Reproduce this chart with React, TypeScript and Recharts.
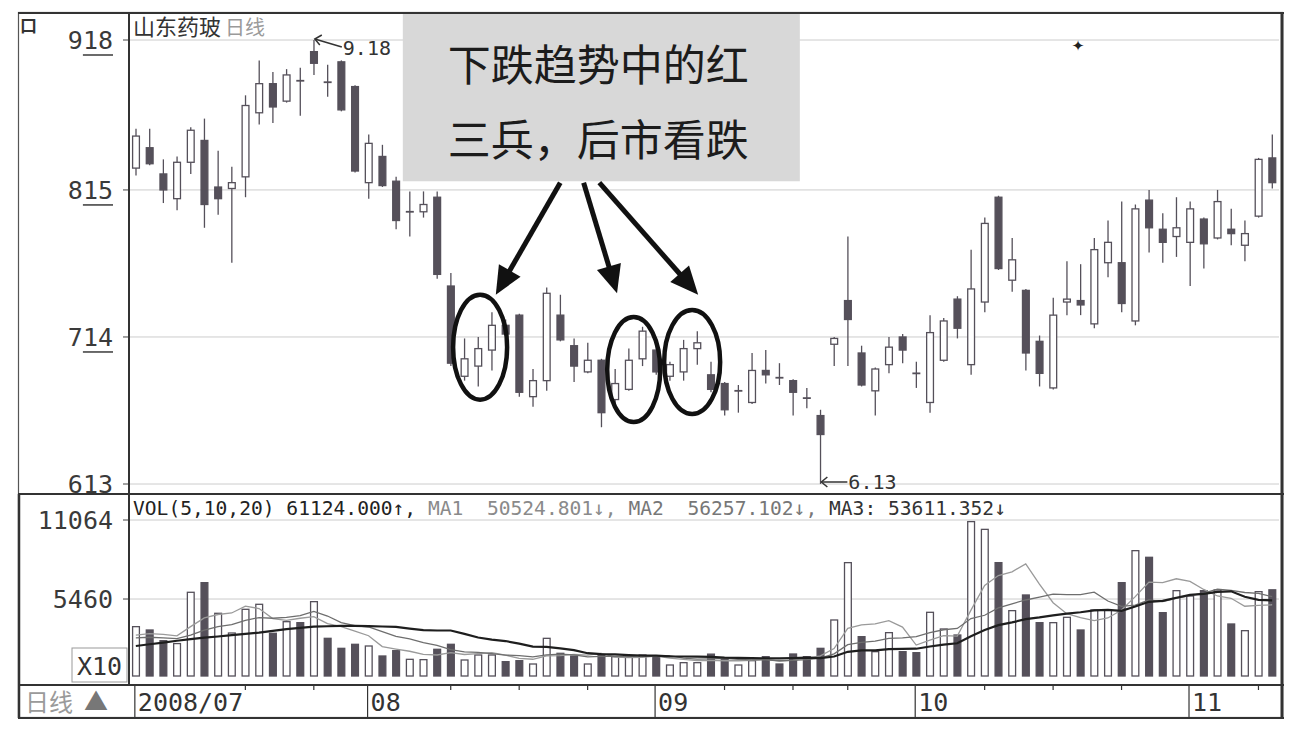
import React from 'react';
import {
  ComposedChart, Bar, Line, XAxis, YAxis, CartesianGrid,
  ReferenceArea, ReferenceDot, ReferenceLine,
} from 'recharts';

// trading days shown for each month of 2008
const julDays = [9, 10, 11, 14, 15, 16, 17, 18, 21, 22, 23, 24, 25, 28, 29, 30, 31];
const augDays = [1, 4, 5, 6, 7, 8, 11, 12, 13, 14, 15, 18, 19, 20, 21, 22, 25, 26, 27, 28, 29];
const sepDays = [1, 2, 3, 4, 5, 8, 9, 10, 11, 12, 16, 17, 18, 19, 22, 23, 24, 25, 26];
const octDays = [6, 7, 8, 9, 10, 13, 14, 15, 16, 17, 20, 21, 22, 23, 24, 27, 28, 29, 30, 31];
const novDays = [3, 4, 5, 6, 7, 10, 11];
const monthLabels = ['2008/07', '08', '09', '10', '11'];

const priceTicks = [613, 714, 815, 918];
const volTicks = [5460, 11064];

// prices x100
const opens = [830, 844, 826, 809, 834, 849, 817, 816, 824, 868,
  888, 876, 890, 910, 889, 903, 886, 820, 838, 821,
  799, 800, 810, 749, 687, 694, 705, 722, 729, 673,
  684, 729, 708, 690, 698, 671, 678, 699, 705, 687,
  690, 706, 688, 682, 676, 669, 691, 686, 684, 672,
  660, 709, 739, 703, 677, 695, 714, 689, 669, 698,
  740, 695, 738, 810, 753, 746, 711, 679, 738, 739,
  723, 765, 765, 725, 808, 788, 783, 779, 795, 782,
  788, 777, 797, 837];
const highs = [857, 857, 836, 838, 858, 864, 842, 831, 880, 904,
  896, 898, 899, 918, 901, 904, 887, 853, 846, 824,
  814, 814, 814, 758, 713, 714, 731, 726, 730, 692,
  748, 743, 713, 710, 699, 692, 706, 721, 708, 697,
  712, 718, 697, 683, 681, 703, 705, 696, 685, 679,
  664, 714, 783, 708, 693, 714, 716, 697, 729, 727,
  742, 774, 796, 811, 782, 747, 715, 741, 766, 764,
  782, 794, 807, 805, 815, 799, 810, 807, 796, 815,
  802, 794, 837, 853];
const lows = [825, 832, 806, 801, 826, 789, 798, 765, 810, 860,
  861, 875, 866, 894, 879, 869, 827, 809, 817, 788,
  783, 796, 754, 694, 684, 680, 691, 708, 673, 666,
  677, 711, 683, 689, 652, 664, 677, 694, 688, 684,
  684, 695, 676, 660, 662, 668, 682, 681, 660, 665,
  613, 694, 694, 680, 660, 689, 696, 679, 662, 697,
  713, 688, 731, 760, 745, 691, 680, 678, 729, 729,
  720, 755, 731, 722, 772, 765, 769, 749, 761, 781,
  777, 766, 796, 816];
const closes = [852, 833, 815, 834, 856, 805, 809, 820, 873, 888,
  872, 894, 889, 902, 888, 870, 828, 847, 818, 794,
  800, 805, 757, 696, 699, 706, 722, 716, 676, 684,
  744, 712, 694, 698, 662, 682, 698, 718, 690, 695,
  706, 710, 678, 664, 677, 691, 688, 685, 676, 671,
  647, 713, 726, 681, 692, 707, 705, 688, 717, 725,
  720, 747, 792, 761, 767, 703, 689, 729, 740, 736,
  774, 779, 737, 802, 789, 779, 789, 802, 778, 807,
  785, 785, 836, 820];

// volume (x10), U = hollow bar, D = filled bar
const volumes = [3500, 3263, 2506, 2300, 5937, 6620, 4447, 3050, 4730, 5085,
  3030, 3853, 3783, 5273, 2672, 1962, 2247, 2128, 1419, 1797,
  1183, 1160, 1894, 2248, 1135, 1490, 1490, 1017, 1088, 851,
  2672, 1609, 1419, 851, 1490, 1372, 1372, 1490, 1324, 780,
  946, 946, 1550, 1183, 780, 1088, 1372, 851, 1560, 1372,
  1962, 3973, 8040, 2790, 1726, 3075, 1726, 1655, 4517, 3334,
  2908, 10950, 10400, 8040, 4635, 5746, 3783, 3783, 4163, 3263,
  4682, 4682, 6620, 8890, 8418, 4493, 6053, 5675, 6053, 6101,
  3689, 3215, 5982, 6112];
const volDir = 'UDDUUDUUUU' + 'DUDUDDDUDD' + 'UUDDUUUDDU' + 'UDDUDUUUDU' + 'UUDDUUDDDD'
  + 'DUUDUUDDUU' + 'DUUDUDDUUD' + 'UUDUDDUUDU' + 'DUUD';

const ma5 = [2900, 3000, 2950, 2850, 3500, 4125, 4362, 4471, 4957, 4786,
  4068, 3950, 4096, 4205, 3722, 3509, 3187, 2856, 2086, 1911,
  1755, 1537, 1491, 1656, 1524, 1585, 1651, 1476, 1244, 1187,
  1424, 1447, 1528, 1480, 1608, 1348, 1301, 1315, 1410, 1268,
  1182, 1097, 1109, 1081, 1081, 1109, 1195, 1055, 1130, 1249,
  1423, 1944, 3381, 3627, 3698, 3921, 3471, 2194, 2540, 2861,
  2828, 4673, 6422, 7126, 7387, 7954, 6521, 5197, 4422, 4148,
  3935, 4115, 4682, 5627, 6658, 6621, 6895, 6706, 6138, 5675,
  5514, 4947, 5008, 5052];
const ma10 = [2700, 2750, 2700, 2650, 2900, 3250, 3500, 3650, 3950, 4144,
  4097, 4156, 4284, 4581, 4254, 3789, 3569, 3476, 3145, 2816,
  2632, 2362, 2174, 1871, 1717, 1670, 1594, 1483, 1450, 1356,
  1505, 1549, 1502, 1362, 1398, 1386, 1374, 1421, 1445, 1438,
  1265, 1199, 1212, 1245, 1174, 1146, 1146, 1082, 1106, 1165,
  1266, 1569, 2218, 2379, 2473, 2672, 2708, 2788, 3084, 3280,
  3374, 4072, 4308, 4833, 5124, 5391, 5597, 5810, 5774, 5767,
  5945, 5318, 4940, 5025, 5403, 5278, 5505, 5694, 5883, 6167,
  6067, 5921, 5857, 5626];
const ma20 = [2130, 2250, 2370, 2500, 2620, 2720, 2800, 2900, 2990, 3080,
  3200, 3330, 3420, 3500, 3530, 3550, 3550, 3540, 3510, 3480,
  3364, 3259, 3229, 3226, 2986, 2729, 2581, 2480, 2298, 2086,
  2068, 1956, 1838, 1617, 1558, 1528, 1484, 1452, 1448, 1397,
  1385, 1374, 1357, 1304, 1286, 1266, 1260, 1252, 1275, 1301,
  1266, 1384, 1715, 1812, 1824, 1909, 1927, 1935, 2095, 2222,
  2320, 2821, 3263, 3606, 3799, 4032, 4152, 4299, 4429, 4523,
  4659, 4695, 4624, 4929, 5264, 5334, 5551, 5752, 5829, 5967,
  6006, 5619, 5398, 5361];

const months = [julDays, augDays, sepDays, octDays, novDays];
const dates: string[] = [];
const monthStart: Record<string, string> = {};
months.forEach((days, m) => days.forEach((d, j) => {
  const key = `2008-${String(m + 7).padStart(2, '0')}-${String(d).padStart(2, '0')}`;
  if (j === 0) monthStart[key] = monthLabels[m];
  dates.push(key);
}));

const dow = (s: string) => new Date(s + 'T00:00:00Z').getUTCDay();
const weekTick = new Set<string>();
let lastStart = 0;
let lastLabel = '';
dates.forEach((s, i) => {
  if (monthStart[s]) { lastStart = i; lastLabel = monthStart[s]; return; }
  if (i > 0 && dow(s) <= dow(dates[i - 1]) && (i - lastStart) * 13.7 > lastLabel.length * 15 + 4) {
    weekTick.add(s);
  }
});

const rows = dates.map((date, i) => ({
  date, open: opens[i], high: highs[i], low: lows[i], close: closes[i],
  vol: volumes[i], volUp: volDir[i] === 'U', ma5: ma5[i], ma10: ma10[i], ma20: ma20[i],
}));

const INK = '#55505a';
const MONO = "'DejaVu Sans Mono', monospace";
const CJK = "'Noto Sans CJK SC', sans-serif";
const NB = '\u00a0';

const Candle = (p: any) => {
  const { x, y, width, height, payload } = p;
  if (x == null || y == null || !payload) return null;
  const top = Math.min(y, y + height);
  const h = Math.abs(height);
  const k = h / (payload.high - payload.low);
  const yo = top + (payload.high - payload.open) * k;
  const yc = top + (payload.high - payload.close) * k;
  const cx = x + width / 2;
  const up = payload.close >= payload.open;
  const bTop = Math.min(yo, yc);
  const bH = Math.abs(yo - yc);
  return (
    <g>
      <line x1={cx} x2={cx} y1={top} y2={top + h} stroke={INK} strokeWidth={1.3} />
      {bH < 2.5 ? (
        <line x1={x} x2={x + width} y1={bTop} y2={bTop} stroke={INK} strokeWidth={1.8} />
      ) : (
        <rect x={x + 0.6} y={bTop} width={width - 1.2} height={bH}
          fill={up ? '#fff' : INK} stroke={INK} strokeWidth={1.3} />
      )}
    </g>
  );
};

const VolBar = (p: any) => {
  const { x, y, width, height, payload } = p;
  if (x == null || y == null || !payload) return null;
  const top = Math.min(y, y + height);
  return (
    <rect x={x + 0.6} y={top} width={width - 1.2} height={Math.abs(height)}
      fill={payload.volUp ? '#fff' : INK} stroke={INK} strokeWidth={1.3} />
  );
};

const PriceTick = (p: any) => {
  const cw = 25 * 0.602;
  const v = p.payload.value;
  return (
    <g>
      <text x={p.x} y={p.y} dy={9} textAnchor="end" fontFamily={MONO} fontSize={25} fill="#3a3a3a">
        {v}
      </text>
      {v !== 613 && (
        <line x1={p.x - cw * 2} x2={p.x} y1={p.y + 15} y2={p.y + 15} stroke="#3a3a3a" strokeWidth={1.5} />
      )}
    </g>
  );
};

const VolTick = (p: any) => (
  <text x={p.x} y={p.y} dy={9} textAnchor="end" fontFamily={MONO} fontSize={25} fill="#3a3a3a">
    {p.payload.value}
  </text>
);

const DateTick = (p: any) => {
  const { x, y, payload } = p;
  const label = monthStart[payload.value];
  if (label) {
    return (
      <g>
        <line x1={x - 1} x2={x - 1} y1={y} y2={y + 33} stroke="#333" strokeWidth={1.2} />
        <text x={x + 2} y={y + 26} fontFamily={MONO} fontSize={25} fill="#333">{label}</text>
      </g>
    );
  }
  if (weekTick.has(payload.value)) {
    return <line x1={x} x2={x} y1={y} y2={y + 5} stroke="#333" strokeWidth={1.2} />;
  }
  return <g />;
};

// annotation: arrows from the caption box to the three circled groups
const arrows = [
  { from: 31, to: 26, fromPrice: 820, toPrice: 743, dx1: 0, dx2: 4 },
  { from: 33, to: 35, fromPrice: 820, toPrice: 744, dx1: -4, dx2: 2 },
  { from: 34, to: 41, fromPrice: 820, toPrice: 743, dx1: -2, dx2: 1 },
];
const rings = [
  { at: 25, price: 707, dx: 2, rx: 27, ry: 52.5 },
  { at: 36, price: 691.6, dx: 5, rx: 26.5, ry: 52.5 },
  { at: 41, price: 696.8, dx: -5, rx: 28, ry: 52 },
];

const arrowShape = (dx1: number, dx2: number) => (p: any) => {
  const x1 = p.x1 + dx1;
  const y1 = p.y1;
  const x2 = p.x2 + dx2;
  const y2 = p.y2;
  const len = Math.hypot(x2 - x1, y2 - y1) || 1;
  const ux = (x2 - x1) / len;
  const uy = (y2 - y1) / len;
  const L = 28;
  const W = 12.5;
  const bx = x2 - ux * L;
  const by = y2 - uy * L;
  return (
    <g>
      <line x1={x1} y1={y1} x2={bx + ux * 2} y2={by + uy * 2} stroke="#111" strokeWidth={5} />
      <polygon points={`${x2},${y2} ${bx - uy * W},${by + ux * W} ${bx + uy * W},${by - ux * W}`} fill="#111" />
    </g>
  );
};

const volHeader = [
  { t: `VOL(5,10,20)${NB}61124.000↑,`, c: '#222' },
  { t: `${NB}MA1${NB}${NB}50524.801↓,`, c: '#8a8a8a' },
  { t: `${NB}MA2${NB}${NB}56257.102↓,`, c: '#777' },
  { t: `${NB}MA3:${NB}53611.352↓`, c: '#333' },
];

const Frame = () => (
  <svg width={1296} height={734} style={{ position: 'absolute', left: 0, top: 0, pointerEvents: 'none' }}>
    <rect x={18.5} y={12.5} width={1264} height={705} fill="none" stroke="#555" strokeWidth={1.2} />
    <line x1={18} x2={1284} y1={13} y2={13} stroke="#333" strokeWidth={2} />
    <line x1={1282} x2={1282} y1={12} y2={719} stroke="#333" strokeWidth={3} />
    <line x1={129} x2={129} y1={13} y2={685} stroke="#333" strokeWidth={2} />
    <line x1={18} x2={1284} y1={494} y2={494} stroke="#333" strokeWidth={2} />
    <line x1={19} x2={19} y1={494} y2={718} stroke="#333" strokeWidth={2.5} />
    <line x1={18} x2={1284} y1={685} y2={685} stroke="#333" strokeWidth={2} />
    <line x1={18} x2={1284} y1={718} y2={718} stroke="#333" strokeWidth={2} />
    <text x={20} y={32} fontFamily={CJK} fontSize={17} fontWeight={700} fill="#333">口</text>
    <text x={133} y={35} fontFamily={CJK} fontSize={22} fill="#333">山东药玻
      <tspan fontSize={20} fill="#9a9a9a" dx={4}>日线</tspan>
    </text>
    <text x={133} y={515} fontFamily={MONO} fontSize={19.6}>
      {volHeader.map((h, i) => <tspan key={i} fill={h.c}>{h.t}</tspan>)}
    </text>
    <rect x={72} y={648} width={55} height={34} fill="#fff" stroke="#999" strokeWidth={1} />
    <text x={99.5} y={675} textAnchor="middle" fontFamily={MONO} fontSize={25} fill="#333">X10</text>
    <text x={25} y={711} fontFamily={CJK} fontSize={24} fill="#9a9a9a">日线</text>
    <text x={84} y={710} fontFamily={CJK} fontSize={24} fill="#777">▲</text>
    <text x={1078} y={51} textAnchor="middle" fontFamily="'DejaVu Sans', sans-serif" fontSize={15} fill="#222">✦</text>
  </svg>
);

const App: React.FC = () => (
  <div style={{ position: 'absolute', left: 0, top: 0, width: 1296, height: 734, background: '#fff', overflow: 'hidden' }}>
    <div style={{ position: 'absolute', left: 0, top: 0 }}>
      <ComposedChart width={1296} height={505} data={rows} margin={{ top: 40, right: 17, bottom: 21, left: 0 }}>
        <CartesianGrid vertical={false} stroke="#cccccc" />
        <XAxis dataKey="date" hide />
        <YAxis
          domain={[613, 918]}
          ticks={priceTicks}
          interval={0}
          allowDataOverflow
          width={129}
          axisLine={false}
          tickSize={6}
          tickMargin={10}
          tickLine={{ stroke: '#444' }}
          tick={(p: any) => <PriceTick {...p} />}
        />
        <Bar dataKey={(d: any) => [d.low, d.high]} shape={Candle} barSize={8} isAnimationActive={false} />
        <ReferenceArea
          x1={dates[20]} x2={dates[48]} y1={821} y2={936.5}
          ifOverflow="visible" fill="#d8d8d8" fillOpacity={1} stroke="none"
        />
        <ReferenceDot
          x={dates[34]} y={936.5} r={1} ifOverflow="visible"
          shape={(p: any) => (
            <g fontFamily={CJK} fontSize={43} fill="#1c1c1c" textAnchor="middle">
              <text x={p.cx - 3} y={p.cy + 68}>下跌趋势中的红</text>
              <text x={p.cx - 3} y={p.cy + 143}>三兵，后市看跌</text>
            </g>
          )}
        />
        {arrows.map((a, i) => (
          <ReferenceLine
            key={'a' + i}
            ifOverflow="visible"
            segment={[{ x: dates[a.from], y: a.fromPrice }, { x: dates[a.to], y: a.toPrice }]}
            shape={arrowShape(a.dx1, a.dx2)}
          />
        ))}
        {rings.map((r, i) => (
          <ReferenceDot
            key={'r' + i}
            x={dates[r.at]} y={r.price} r={1} ifOverflow="visible"
            shape={(p: any) => (
              <ellipse cx={p.cx + r.dx} cy={p.cy} rx={r.rx} ry={r.ry} fill="none" stroke="#111" strokeWidth={4.5} />
            )}
          />
        ))}
        <ReferenceDot
          x={dates[13]} y={918} r={1} ifOverflow="visible"
          shape={(p: any) => (
            <g>
              <line x1={p.cx + 1} y1={p.cy - 1} x2={p.cx + 28} y2={p.cy + 7} stroke="#333" strokeWidth={1.5} />
              <polyline points={`${p.cx + 8},${p.cy - 5} ${p.cx + 1},${p.cy - 1} ${p.cx + 6},${p.cy + 5}`} fill="none" stroke="#333" strokeWidth={1.5} />
              <text x={p.cx + 29} y={p.cy + 15} fontFamily={MONO} fontSize={20} fill="#333">9.18</text>
            </g>
          )}
        />
        <ReferenceDot
          x={dates[50]} y={613} r={1} ifOverflow="visible"
          shape={(p: any) => (
            <g>
              <line x1={p.cx + 1} y1={p.cy - 2} x2={p.cx + 27} y2={p.cy - 2} stroke="#333" strokeWidth={1.5} />
              <polyline points={`${p.cx + 7},${p.cy - 7} ${p.cx + 1},${p.cy - 2} ${p.cx + 7},${p.cy + 3}`} fill="none" stroke="#333" strokeWidth={1.5} />
              <text x={p.cx + 28} y={p.cy + 5} fontFamily={MONO} fontSize={20} fill="#333">6.13</text>
            </g>
          )}
        />
      </ComposedChart>
    </div>
    <div style={{ position: 'absolute', left: 0, top: 495, width: 1296, height: 223, background: 'transparent' }}>
      <ComposedChart width={1296} height={223} data={rows} margin={{ top: 25, right: 17, bottom: 0, left: 0 }}>
        <CartesianGrid vertical={false} stroke="#cccccc" />
        <XAxis
          dataKey="date"
          ticks={dates}
          interval={0}
          height={33}
          tickSize={0}
          tickMargin={0}
          tickLine={false}
          axisLine={{ stroke: '#333', strokeWidth: 2 }}
          tick={(p: any) => <DateTick {...p} />}
        />
        <YAxis
          domain={[-638, 11064]}
          ticks={volTicks}
          interval={0}
          allowDataOverflow
          width={129}
          axisLine={false}
          tickSize={6}
          tickMargin={10}
          tickLine={{ stroke: '#444' }}
          tick={(p: any) => <VolTick {...p} />}
        />
        <Bar dataKey="vol" shape={VolBar} barSize={8} isAnimationActive={false} />
        <Line type="linear" dataKey="ma5" stroke="#9a9a9a" strokeWidth={1.3} dot={false} isAnimationActive={false} />
        <Line type="linear" dataKey="ma10" stroke="#6e6e6e" strokeWidth={1.3} dot={false} isAnimationActive={false} />
        <Line type="linear" dataKey="ma20" stroke="#1e1e1e" strokeWidth={2.2} dot={false} isAnimationActive={false} />
      </ComposedChart>
    </div>
    <Frame />
  </div>
);

export default App;
